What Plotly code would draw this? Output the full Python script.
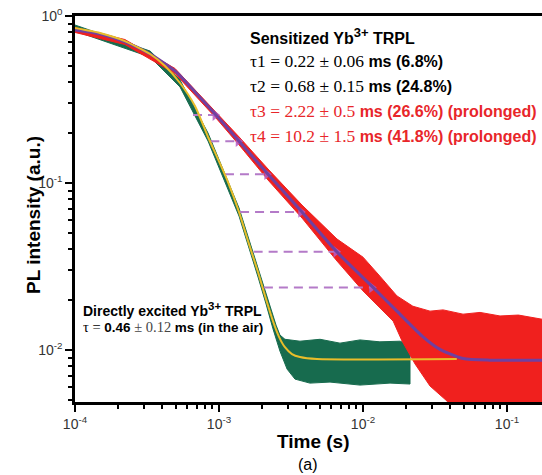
import numpy as np
import plotly.graph_objects as go

# ---------------- data ----------------
# sensitized Yb3+ TRPL fit (purple)
sens_fit_t = [1e-4, 1.49e-4, 2.22e-4, 3.32e-4, 4.95e-4, 6.81e-4, 9.53e-4, 1.38e-3, 2.19e-3,
              3.77e-3, 6.6e-3, 1.17e-2, 1.72e-2, 2.61e-2, 3.42e-2, 4.95e-2, 7.6e-2, 0.2]
sens_fit_I = [0.824, 0.780, 0.699, 0.592, 0.469, 0.351, 0.255, 0.178, 0.113,
              0.0671, 0.0386, 0.0238, 0.0171, 0.0120, 0.0101, 0.0089, 0.0087, 0.0087]

# sensitized data band (red): upper and lower envelopes
sens_up_t = [1e-4, 2.22e-4, 4.95e-4, 9.53e-4, 1.38e-3, 2.19e-3, 3.77e-3, 6.6e-3, 1.0e-2,
             1.31e-2, 1.72e-2, 2.22e-2, 2.92e-2, 3.6e-2, 4.95e-2, 6.5e-2, 8.94e-2, 0.12, 0.175, 0.2]
sens_up_I = [0.853, 0.723, 0.485, 0.266, 0.1886, 0.1213, 0.0738, 0.0462, 0.0360,
             0.0277, 0.0211, 0.0183, 0.0171, 0.0174, 0.0164, 0.0168, 0.0160, 0.0162, 0.0153, 0.0152]
sens_lo_t = [1e-4, 2.22e-4, 4.95e-4, 9.53e-4, 1.38e-3, 2.19e-3, 3.77e-3, 6.6e-3, 1.0e-2,
             1.62e-2, 1.87e-2, 2.30e-2, 2.92e-2, 3.83e-2, 5.5e-2, 0.2]
sens_lo_I = [0.797, 0.675, 0.452, 0.245, 0.1689, 0.1042, 0.0617, 0.0341, 0.0226,
             0.0149, 0.0113, 0.00825, 0.00609, 0.00495, 0.0034, 0.0034]

# directly excited Yb3+ TRPL fit (yellow)
dir_fit_t = [1e-4, 1.49e-4, 2.22e-4, 3.32e-4, 4.22e-4, 5.36e-4, 6.81e-4, 8.39e-4, 9.84e-4,
             1.155e-3, 1.377e-3, 1.616e-3, 1.866e-3, 2.12e-3, 2.37e-3, 2.61e-3, 2.87e-3,
             3.21e-3, 3.65e-3, 4.79e-3, 4.48e-2]
dir_fit_I = [0.847, 0.791, 0.708, 0.592, 0.502, 0.397, 0.289, 0.1886, 0.1392,
             0.1014, 0.0671, 0.0431, 0.0293, 0.0202, 0.0149, 0.0120, 0.0104,
             0.00946, 0.00908, 0.00883, 0.00883]

# directly excited data band (green): upper and lower envelopes
dir_up_t = [1e-4, 3.32e-4, 5.36e-4, 8.39e-4, 1.377e-3, 2.12e-3, 2.49e-3, 2.65e-3, 2.87e-3,
            3.65e-3, 5.03e-3, 6.92e-3, 9.53e-3, 1.31e-2, 1.81e-2, 2.12e-2]
dir_up_I = [0.883, 0.617, 0.414, 0.1992, 0.0709, 0.0214, 0.0141, 0.0123, 0.0116,
            0.0113, 0.0116, 0.0110, 0.0115, 0.0112, 0.0113, 0.0107]
dir_lo_t = [1e-4, 3.32e-4, 5.36e-4, 8.39e-4, 1.377e-3, 1.866e-3, 2.12e-3, 2.37e-3, 2.65e-3,
            2.97e-3, 3.37e-3, 4.28e-3, 5.9e-3, 9.53e-3, 1.54e-2, 2.12e-2]
dir_lo_I = [0.813, 0.568, 0.376, 0.1784, 0.0634, 0.0274, 0.0189, 0.0134, 0.00986,
            0.00769, 0.0067, 0.00634, 0.00643, 0.00617, 0.00634, 0.00626]

# prolongation arrows: intensity level, start time, end time
arrow_level = [0.255, 0.178, 0.113, 0.0671, 0.0388, 0.0237]
arrow_start = [6.6e-4, 8.7e-4, 1.10e-3, 1.40e-3, 1.74e-3, 2.05e-3]
arrow_end = [9.4e-4, 1.36e-3, 2.15e-3, 3.7e-3, 6.5e-3, 1.15e-2]

# axis ticks
x_tickvals = [1e-4, 1e-3, 1e-2, 1e-1]
x_ticktext = ["10<sup>-4</sup>", "10<sup>-3</sup>", "10<sup>-2</sup>", "10<sup>-1</sup>"]
y_tickvals = [1e-2, 1e-1, 1e0]
y_ticktext = ["10<sup>-2</sup>", "10<sup>-1</sup>", "10<sup>0</sup>"]

# ---------------- figure ----------------
RED = "#f0201e"
GREEN = "#176b4e"
YELLOW = "#e9bd2a"
PURPLE = "#7040a0"
ARROW = "#b47ac8"
SANS = "Liberation Sans, Arial, sans-serif"
SERIF = "Liberation Serif"

fig = go.Figure()

# green data band
fig.add_trace(go.Scatter(
    x=list(dir_up_t) + list(dir_lo_t)[::-1],
    y=list(dir_up_I) + list(dir_lo_I)[::-1],
    fill="toself", fillcolor=GREEN, mode="lines",
    line=dict(color=GREEN, width=1), hoverinfo="skip", showlegend=False))

# red data band
fig.add_trace(go.Scatter(
    x=list(sens_up_t) + list(sens_lo_t)[::-1],
    y=list(sens_up_I) + list(sens_lo_I)[::-1],
    fill="toself", fillcolor=RED, mode="lines",
    line=dict(color=RED, width=1), hoverinfo="skip", showlegend=False))

# arrows
for lvl, t0, t1 in zip(arrow_level, arrow_start, arrow_end):
    fig.add_trace(go.Scatter(
        x=[t0, t1], y=[lvl, lvl], mode="lines",
        line=dict(color=ARROW, width=2, dash="9px,6px"),
        hoverinfo="skip", showlegend=False))
fig.add_trace(go.Scatter(
    x=arrow_end, y=arrow_level, mode="markers",
    marker=dict(symbol="triangle-right", size=10, color="#b45cc4", opacity=0.85),
    hoverinfo="skip", showlegend=False))

# fits
fig.add_trace(go.Scatter(
    x=sens_fit_t, y=sens_fit_I, mode="lines",
    line=dict(color=PURPLE, width=3, shape="spline", smoothing=0.6),
    hoverinfo="skip", showlegend=False))
fig.add_trace(go.Scatter(
    x=dir_fit_t, y=dir_fit_I, mode="lines",
    line=dict(color=YELLOW, width=2, shape="spline", smoothing=0.6),
    hoverinfo="skip", showlegend=False))


def minor_vals(lo_exp, hi_exp):
    return [k * 10.0 ** e for e in range(lo_exp, hi_exp) for k in range(2, 10)]


axis_common = dict(
    type="log", showgrid=False, zeroline=False,
    showline=True, linecolor="black", linewidth=2.5,
    ticks="outside", ticklen=7, tickwidth=2, tickcolor="black",
    tickmode="array",
    tickfont=dict(family=SANS, size=14, color="#333333"),
)
fig.update_xaxes(**axis_common, range=[-4, -0.757], mirror=True,
                 tickvals=x_tickvals, ticktext=x_ticktext,
                 minor=dict(ticks="outside", ticklen=4, tickwidth=1.5, tickcolor="black",
                            showgrid=False, tickmode="array", tickvals=minor_vals(-4, 0)))
fig.update_yaxes(**axis_common, range=[-2.311, 0],
                 tickvals=y_tickvals, ticktext=y_ticktext,
                 minor=dict(ticks="outside", ticklen=4, tickwidth=1.5, tickcolor="black",
                            showgrid=False, tickmode="array", tickvals=minor_vals(-3, 0)))

# texts
def px(x):
    return (x - 75) / 467.0


def py(y):
    return (402 - y) / 386.0


annots = []
annots.append(dict(x=px(248), y=py(36),
                   text='<b>Sensitized Yb<sup><span style="font-size:13px">3+</span></sup> TRPL</b>',
                   font=dict(family=SANS, size=16, color="black")))
tau_lines = [
    ("τ1 = 0.22 ± 0.06 ", "ms (6.8%)", "black"),
    ("τ2 = 0.68 ± 0.15 ", "ms (24.8%)", "black"),
    ("τ3 = 2.22 ± 0.5 ", "ms (26.6%) (prolonged)", "#e8262a"),
    ("τ4 = 10.2 ± 1.5 ", "ms (41.8%) (prolonged)", "#e8262a"),
]
for i, (a, b, c) in enumerate(tau_lines):
    annots.append(dict(
        x=px(248), y=py(61 + 25 * i),
        text=f'<span style="font-family:{SERIF};font-size:17.5px">{a}</span><b>{b}</b>',
        font=dict(family=SANS, size=16, color=c)))

annots.append(dict(x=px(81), y=py(309),
                   text='<b>Directly excited Yb<sup><span style="font-size:11.5px">3+</span></sup> TRPL</b>',
                   font=dict(family=SANS, size=14, color="black")))
annots.append(dict(
    x=px(81), y=py(327),
    text=(f'<span style="font-family:{SERIF};font-size:14.5px">τ = </span><b>0.46</b>'
          f'<span style="font-family:{SERIF};font-size:14.5px;fill:#444"> ± 0.12 </span><b>ms (in the air)</b>'),
    font=dict(family=SANS, size=13.5, color="black")))

for a in annots:
    a.update(xref="paper", yref="paper", xanchor="left", yanchor="middle", showarrow=False)

annots.append(dict(x=px(313), y=py(441.5), xref="paper", yref="paper", showarrow=False,
                   xanchor="center", yanchor="middle", text="<b>Time (s)</b>",
                   font=dict(family=SANS, size=19, color="black")))
annots.append(dict(x=px(308), y=py(465), xref="paper", yref="paper", showarrow=False,
                   xanchor="center", yanchor="middle", text="(a)",
                   font=dict(family=SANS, size=16, color="black")))
annots.append(dict(x=px(33), y=py(215), xref="paper", yref="paper", showarrow=False,
                   xanchor="center", yanchor="middle", textangle=-90,
                   text="<b>PL intensity (a.u.)</b>",
                   font=dict(family=SANS, size=19, color="black")))

fig.update_layout(
    width=542, height=475, autosize=False,
    margin=dict(l=75, r=0, t=16, b=73, autoexpand=False),
    paper_bgcolor="white", plot_bgcolor="white",
    annotations=annots, showlegend=False,
)

fig.write_html("out.html", config={"displayModeBar": False},
               post_script="document.body.style.margin='0px';document.body.style.overflow='hidden';")
